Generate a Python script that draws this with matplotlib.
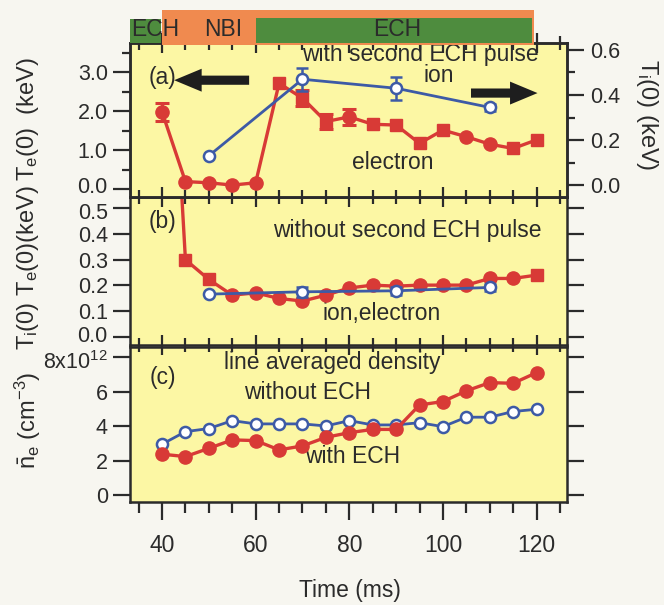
import matplotlib
matplotlib.use('Agg')
import matplotlib.pyplot as plt
from matplotlib.ticker import MultipleLocator, FixedLocator, FixedFormatter
from matplotlib.transforms import ScaledTranslation
import numpy as np

plt.rcParams['font.family'] = ['Liberation Sans', 'DejaVu Sans']
plt.rcParams['mathtext.fontset'] = 'custom'
plt.rcParams['mathtext.rm'] = 'Liberation Sans'
plt.rcParams['mathtext.it'] = 'Liberation Sans:italic'

# ---------------- data ----------------
time = [40, 45, 50, 55, 60, 65, 70, 75, 80, 85, 90, 95, 100, 105, 110, 115, 120]

# (a) with second ECH pulse
te_a = [1.98, 0.19, 0.16, 0.10, 0.16, 2.71, 2.33, 1.73, 1.85, 1.66, 1.64, 1.17, 1.51, 1.34, 1.15, 1.04, 1.26]
te_a_err = [0.23, 0, 0, 0, 0, 0, 0.2, 0.2, 0.2, 0, 0, 0, 0, 0, 0, 0, 0]
te_a_square_times = [65, 70, 75, 85, 90, 95, 100, 115, 120]
ion_time = [50, 70, 90, 110]
ti_a = [0.13, 0.47, 0.43, 0.345]
ti_a_err = [0, 0.05, 0.05, 0.015]

# (b) without second ECH pulse
te_b = [1.9, 0.30, 0.223, 0.162, 0.171, 0.149, 0.139, 0.162, 0.19, 0.201, 0.197, 0.201, 0.201, 0.201, 0.227, 0.227, 0.24]
te_b_square_times = [45, 50, 120]
ti_b = [0.166, 0.175, 0.179, 0.192]
ti_b_err = [0, 0.02, 0.015, 0.012]

# (c) line averaged density (1e12 cm^-3)
ne_with_ech = [2.37, 2.23, 2.71, 3.20, 3.16, 2.62, 2.85, 3.35, 3.62, 3.81, 3.81, 5.23, 5.43, 6.05, 6.53, 6.49, 7.11]
ne_without_ech = [2.95, 3.68, 3.86, 4.32, 4.13, 4.13, 4.13, 4.01, 4.32, 4.07, 4.07, 4.20, 3.97, 4.52, 4.52, 4.85, 4.98]

# heating phases
phase_names = ['ECH', 'NBI', 'ECH']
phase_start = [33.2, 40, 60]
phase_end = [39.7, 119.5, 119.0]

# ---------------- style ----------------
RED = '#d83a36'
BLUE = '#3d5aa6'
YEL = '#fcf7a4'
GREEN = '#4e8c3e'
ORANGE = '#f08a4f'
BG = '#f7f6f0'
TXT = '#2b2b2b'
FS = 16.5
TFS = 15.5
LFS = 17

W, H = 664, 605
fig = plt.figure(figsize=(W / 100, H / 100), dpi=100, facecolor=BG)

def fr(top_px, bot_px):
    return [130 / W, 1 - bot_px / H, (567 - 130) / W, (bot_px - top_px) / H]

XL = (33.16, 126.5)

axc = fig.add_axes(fr(347, 502))
axb = fig.add_axes(fr(197, 345))
axa = fig.add_axes(fr(43, 197))
axa2 = axa.twinx()
axbar = fig.add_axes(fr(10, 45))

for ax in (axa, axb, axc):
    ax.set_facecolor(YEL)
    ax.set_xlim(*XL)
    ax.xaxis.set_major_locator(FixedLocator([40, 60, 80, 100, 120]))
    ax.xaxis.set_minor_locator(MultipleLocator(5))
    for s in ax.spines.values():
        s.set_linewidth(1.8)
        s.set_color(TXT)
    ax.tick_params(axis='both', which='both', colors=TXT, width=1.6, labelsize=TFS, labelcolor=TXT)
    ax.tick_params(axis='y', which='major', direction='out', length=12, left=True, right=True, pad=4)
    ax.tick_params(axis='y', which='minor', direction='out', length=6, left=True, right=True)
    ax.tick_params(axis='y', labelright=False)

# x tick styling
axa.tick_params(axis='x', which='major', direction='inout', length=14, top=True, bottom=True, labelbottom=False)
axa.tick_params(axis='x', which='minor', direction='inout', length=10, top=True, bottom=True)
axb.tick_params(axis='x', which='major', direction='inout', length=14, top=False, labelbottom=False)
axb.tick_params(axis='x', which='minor', direction='inout', length=10, top=False)
axc.tick_params(axis='x', which='major', direction='out', length=13, top=False, pad=10, labelsize=FS)
axc.tick_params(axis='x', which='minor', direction='out', length=8, top=False)

# ---------------- panel (a) ----------------
axa.set_ylim(-0.205, 3.744)
axa.yaxis.set_major_locator(FixedLocator([0, 1, 2, 3]))
axa.yaxis.set_major_formatter(FixedFormatter(['0.0', '1.0', '2.0', '3.0']))
axa.yaxis.set_minor_locator(MultipleLocator(0.5))
axa.tick_params(axis='y', which='both', right=False)

axa.plot(time, te_a, color=RED, lw=2.4, zorder=3)
te_err_t = [t for t, e in zip(time, te_a_err) if e > 0]
te_err_v = [v for v, e in zip(te_a, te_a_err) if e > 0]
te_err_e = [e for e in te_a_err if e > 0]
axa.errorbar(te_err_t, te_err_v, yerr=te_err_e, fmt='none', ecolor=RED, elinewidth=2.2, capsize=5, capthick=2.2, zorder=3)
for t, v in zip(time, te_a):
    m = 's' if t in te_a_square_times else 'o'
    axa.plot(t, v, marker=m, ms=9.5 if m == 'o' else 9, color=RED, mec=RED, zorder=4, ls='none')

axa2.set_ylim(-0.053, 0.631)
axa2.yaxis.set_major_locator(FixedLocator([0, 0.2, 0.4, 0.6]))
axa2.yaxis.set_major_formatter(FixedFormatter(['0.0', '0.2', '0.4', '0.6']))
axa2.yaxis.set_minor_locator(MultipleLocator(0.1))
axa2.tick_params(axis='y', which='major', direction='out', length=12, width=1.6, colors=TXT, labelsize=TFS, pad=5)
axa2.tick_params(axis='y', which='minor', direction='out', length=6, width=1.6, colors=TXT)
for s in axa2.spines.values():
    s.set_linewidth(1.8)
    s.set_color(TXT)
ti_err_t = [t for t, e in zip(ion_time, ti_a_err) if e > 0]
ti_err_v = [v for v, e in zip(ti_a, ti_a_err) if e > 0]
ti_err_e = [e for e in ti_a_err if e > 0]
axa2.errorbar(ti_err_t, ti_err_v, yerr=ti_err_e, fmt='none', ecolor=BLUE, elinewidth=1.8, capsize=4, capthick=1.8, zorder=3)
axa2.plot(ion_time, ti_a, color=BLUE, lw=2.0, marker='o', ms=8, mfc='white', mec=BLUE, mew=1.8, zorder=4)

axa.text(40, 2.87, '(a)', fontsize=FS, color=TXT, ha='center', va='center')
axa.text(95.2, 3.46, 'with second ECH pulse', fontsize=FS, color=TXT, ha='center', va='center')
axa.text(99, 2.9, 'ion', fontsize=FS, color=TXT, ha='center', va='center')
axa.text(89.2, 0.67, 'electron', fontsize=FS, color=TXT, ha='center', va='center')
arrow_kw = dict(arrowstyle='simple,head_length=0.9,head_width=0.75,tail_width=0.3', color='#1e1e1e', mutation_scale=22, lw=0)
axa.annotate('', xy=(42.0, 2.79), xytext=(59.2, 2.79), arrowprops=arrow_kw, zorder=5)
axa.annotate('', xy=(120.8, 2.46), xytext=(105.4, 2.46), arrowprops=arrow_kw, zorder=5)

# ---------------- panel (b) ----------------
axb.set_ylim(-0.032, 0.544)
axb.yaxis.set_major_locator(FixedLocator([0, 0.1, 0.2, 0.3, 0.4, 0.5]))
axb.yaxis.set_major_formatter(FixedFormatter(['0.0', '0.1', '0.2', '0.3', '0.4', '0.5']))
axb.plot(time, te_b, color=RED, lw=2.4, zorder=3)
for t, v in zip(time, te_b):
    m = 's' if t in te_b_square_times else 'o'
    axb.plot(t, v, marker=m, ms=9.5 if m == 'o' else 9, color=RED, mec=RED, zorder=4, ls='none')
tb_err_t = [t for t, e in zip(ion_time, ti_b_err) if e > 0]
tb_err_v = [v for v, e in zip(ti_b, ti_b_err) if e > 0]
tb_err_e = [e for e in ti_b_err if e > 0]
axb.errorbar(tb_err_t, tb_err_v, yerr=tb_err_e, fmt='none', ecolor=BLUE, elinewidth=1.8, capsize=4, capthick=1.8, zorder=5)
axb.plot(ion_time, ti_b, color=BLUE, lw=2.0, marker='o', ms=8, mfc='white', mec=BLUE, mew=1.8, zorder=5)
axb.text(40.2, 0.447, '(b)', fontsize=FS, color=TXT, ha='center', va='center')
axb.text(92.4, 0.415, 'without second ECH pulse', fontsize=FS, color=TXT, ha='center', va='center')
axb.text(87, 0.092, 'ion,electron', fontsize=FS, color=TXT, ha='center', va='center')

# ---------------- panel (c) ----------------
axc.set_ylim(-0.41, 8.6)
axc.yaxis.set_major_locator(FixedLocator([0, 2, 4, 6, 8]))
axc.yaxis.set_major_formatter(FixedFormatter(['0', '2', '4', '6', '8x10$^{12}$']))
axc.plot(time, ne_without_ech, color=BLUE, lw=2.0, marker='o', ms=8, mfc='white', mec=BLUE, mew=1.8, zorder=3)
axc.plot(time, ne_with_ech, color=RED, lw=2.4, marker='o', ms=9.5, mfc=RED, mec=RED, zorder=4)
axc.text(40.2, 6.8, '(c)', fontsize=FS, color=TXT, ha='center', va='center')
axc.text(76.4, 7.67, 'line averaged density', fontsize=FS, color=TXT, ha='center', va='center')
axc.text(71, 5.93, 'without ECH', fontsize=FS, color=TXT, ha='center', va='center')
axc.text(80.8, 2.21, 'with ECH', fontsize=FS, color=TXT, ha='center', va='center')
axc.set_xticklabels(['40', '60', '80', '100', '120'])

# nudge crowded tick labels at the panel joints (a few pixels)
def nudge(label, dy_px):
    label.set_transform(label.get_transform() + ScaledTranslation(0, dy_px / 100, fig.dpi_scale_trans))

nudge(axa.get_yticklabels()[0], 4)
nudge(axb.get_yticklabels()[-1], -3)
nudge(axb.get_yticklabels()[0], 3)
nudge(axc.get_yticklabels()[-1], -3)

# ---------------- heating phase bar ----------------
axbar.set_xlim(*XL)
axbar.set_ylim(0, 1)
axbar.axis('off')
phase_colors = [GREEN, ORANGE, GREEN]
phase_y = [(0.05, 0.73), (0.0, 1.0), (0.05, 0.78)]
for name, s, e, c, (y0, y1) in zip(phase_names, phase_start, phase_end, phase_colors, phase_y):
    axbar.axvspan(s, e, ymin=y0, ymax=y1, color=c, lw=0)
axbar.text(38.5, 0.45, phase_names[0], fontsize=FS, color=TXT, ha='center', va='center')
axbar.text(53, 0.45, phase_names[1], fontsize=FS, color=TXT, ha='center', va='center')
axbar.text(90.2, 0.45, phase_names[2], fontsize=FS, color=TXT, ha='center', va='center')

# ---------------- axis labels ----------------
fig.text(28 / W, 1 - 119 / H, 'T$_\\mathrm{e}$(0)  (keV)', rotation=90, fontsize=LFS, color=TXT, ha='center', va='center')
fig.text(28 / W, 1 - 268 / H, 'T$_\\mathrm{i}$(0) T$_\\mathrm{e}$(0)(keV)', rotation=90, fontsize=LFS, color=TXT, ha='center', va='center')
fig.text(28 / W, 1 - 420 / H, '$\\bar{\\mathrm{n}}_\\mathrm{e}$ (cm$^{-3}$)', rotation=90, fontsize=LFS, color=TXT, ha='center', va='center')
fig.text(647 / W, 1 - 115 / H, 'T$_\\mathrm{i}$(0) (keV)', rotation=270, fontsize=LFS, color=TXT, ha='center', va='center')
fig.text(350 / W, 1 - 590 / H, 'Time (ms)', fontsize=FS, color=TXT, ha='center', va='center')

fig.savefig('out.png', dpi=100, facecolor=BG)
